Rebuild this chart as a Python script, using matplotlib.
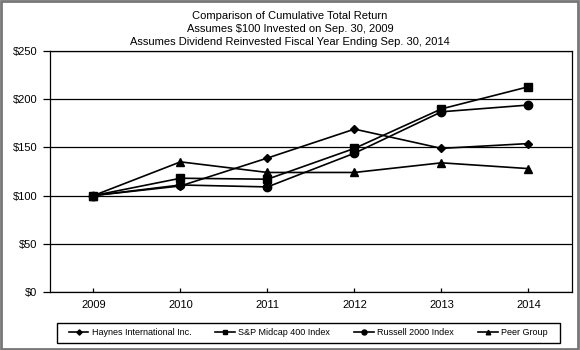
import matplotlib.pyplot as plt
from matplotlib.patches import Rectangle

plt.rcParams['font.family'] = ['Liberation Sans', 'DejaVu Sans']
plt.rcParams['font.size'] = 8

years = ['2009', '2010', '2011', '2012', '2013', '2014']
haynes = [100, 110, 139, 169, 149, 154]
sp400 = [100, 118, 117, 149, 190, 213]
russell = [100, 111, 109, 144, 187, 194]
peer = [100, 135, 124, 124, 134, 128]

series = [
    ('Haynes International Inc.', haynes, 'D', 4.5),
    ('S&P Midcap 400 Index', sp400, 's', 5.5),
    ('Russell 2000 Index', russell, 'o', 6),
    ('Peer Group', peer, '^', 5.5),
]

fig = plt.figure(figsize=(5.8, 3.5), dpi=100)
ax = fig.add_axes([0.0862, 0.166, 0.9, 0.688])

x = range(len(years))
for name, vals, mk, ms in series:
    ax.plot(x, vals, color='black', lw=1.2, marker=mk, ms=ms, label=name)

ax.set_xlim(-0.5, 5.5)
ax.set_ylim(0, 250)
ax.set_xticks(list(x))
ax.set_xticklabels(years)
ax.set_yticks(range(0, 251, 50))
ax.set_yticklabels(['$%d' % v for v in range(0, 251, 50)])
ax.yaxis.grid(True, color='black', lw=0.9)
ax.tick_params(axis='x', direction='in', length=3, pad=6, width=0.9)
ax.tick_params(axis='y', direction='out', length=5, pad=4, width=0.9)
for s in ax.spines.values():
    s.set_linewidth(0.9)

fig.text(0.5, 0.955, 'Comparison of Cumulative Total Return', ha='center', va='center')
fig.text(0.5, 0.918, 'Assumes $100 Invested on Sep. 30, 2009', ha='center', va='center')
fig.text(0.5, 0.881, 'Assumes Dividend Reinvested Fiscal Year Ending Sep. 30, 2014',
         ha='center', va='center')

# legend without its own frame; box drawn separately so side padding can be wider
leg = fig.legend(loc='center', bbox_to_anchor=(0.531, 0.0486), ncol=4,
                 fontsize=6.5, handlelength=2.2, handletextpad=0.35,
                 columnspacing=2.65, markerscale=0.6, frameon=False,
                 borderpad=0, borderaxespad=0)
fig.patches.append(Rectangle((0.0983, 0.02), 0.8672, 0.0571, transform=fig.transFigure,
                             fill=False, edgecolor='black', lw=1.0))

fig.patches.append(Rectangle((0.002, 0.003), 0.994, 0.993, transform=fig.transFigure,
                             fill=False, edgecolor='#777777', lw=2))

fig.savefig('out.png', dpi=100)
